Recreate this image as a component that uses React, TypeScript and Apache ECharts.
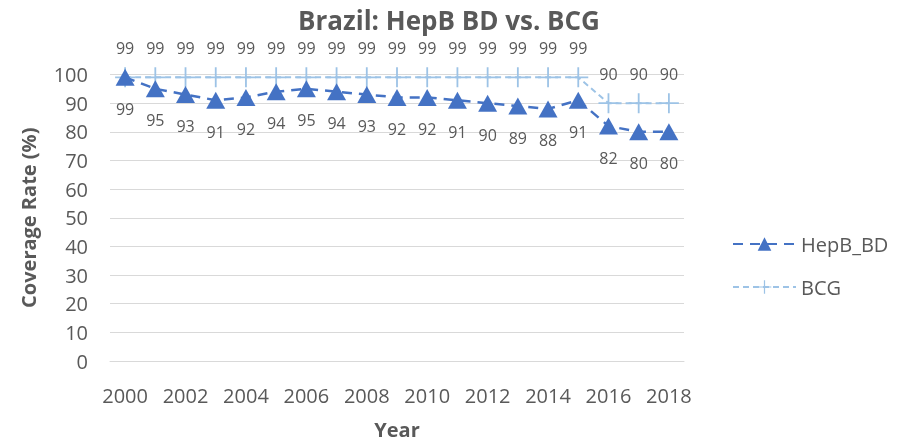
import React, { useEffect, useRef } from "react";
import * as echarts from "echarts";

const years = ["2000","2001","2002","2003","2004","2005","2006","2007","2008","2009","2010","2011","2012","2013","2014","2015","2016","2017","2018"];
const hepbBD = [99, 95, 93, 91, 92, 94, 95, 94, 93, 92, 92, 91, 90, 89, 88, 91, 82, 80, 80];
const bcg = [99, 99, 99, 99, 99, 99, 99, 99, 99, 99, 99, 99, 99, 99, 99, 99, 90, 90, 90];

const FONT = "'Open Sans', 'Noto Sans', sans-serif";
const TEXT = "#595959";
const PLUS = "path://M9.1,0h1.8v9.1h9.1v1.8h-9.1v9.1h-1.8v-9.1h-9.1v-1.8h9.1z";

export default function App() {
  const ref = useRef<HTMLDivElement>(null);
  useEffect(() => {
    const chart = echarts.init(ref.current!, null, { renderer: "svg" });
    chart.setOption({
      animation: false,
      textStyle: { fontFamily: FONT },
      title: {
        text: "Brazil: HepB BD vs. BCG",
        left: "center",
        top: 2,
        textStyle: { fontFamily: FONT, fontSize: 26, fontWeight: "bold", color: TEXT },
      },
      legend: {
        orient: "vertical",
        left: 727,
        top: 229,
        itemWidth: 63,
        itemHeight: 17,
        itemGap: 23,
        textStyle: { fontFamily: FONT, fontSize: 20, color: TEXT },
        data: ["HepB_BD", "BCG"],
      },
      grid: { left: 110, right: 214, top: 74.5, bottom: 78, containLabel: false },
      xAxis: {
        type: "category",
        data: years,
        boundaryGap: true,
        name: "Year",
        nameLocation: "middle",
        nameGap: 58,
        nameTextStyle: { fontFamily: FONT, fontSize: 20, fontWeight: "bold", color: TEXT },
        axisLine: { lineStyle: { color: "#D9D9D9", width: 1 } },
        axisTick: { show: false },
        axisLabel: { interval: 1, margin: 24, fontFamily: FONT, fontSize: 20, color: TEXT },
      },
      yAxis: {
        type: "value",
        min: 0,
        max: 100,
        interval: 10,
        name: "Coverage Rate (%)",
        nameLocation: "middle",
        nameGap: 72,
        nameTextStyle: { fontFamily: FONT, fontSize: 20, fontWeight: "bold", color: TEXT },
        axisLine: { show: false },
        axisTick: { show: false },
        axisLabel: { margin: 22, fontFamily: FONT, fontSize: 20, color: TEXT },
        splitLine: { lineStyle: { color: "#D9D9D9", width: 1 } },
      },
      series: [
        {
          name: "HepB_BD",
          type: "line",
          data: hepbBD,
          z: 3,
          showAllSymbol: true,
          lineStyle: { color: "#4472C4", width: 2.5, type: [10, 7] },
          itemStyle: { color: "#4472C4" },
          symbol: "triangle",
          symbolSize: [19, 17],
          labelLayout: { hideOverlap: false },
          label: {
            show: true,
            position: "bottom",
            distance: 15,
            fontFamily: FONT,
            fontSize: 16,
            color: TEXT,
          },
        },
        {
          name: "BCG",
          type: "line",
          data: bcg,
          z: 2,
          showAllSymbol: true,
          lineStyle: { color: "#9DC3E6", width: 2, type: [6, 4] },
          itemStyle: { color: "#9DC3E6" },
          symbol: PLUS,
          symbolSize: 20,
          labelLayout: { hideOverlap: false },
          label: {
            show: true,
            position: "top",
            distance: 11,
            fontFamily: FONT,
            fontSize: 16,
            color: TEXT,
          },
        },
      ],
    });
    return () => chart.dispose();
  }, []);
  return (
    <div
      ref={ref}
      style={{ position: "fixed", left: 0, top: 0, width: 898, height: 444 }}
    />
  );
}
